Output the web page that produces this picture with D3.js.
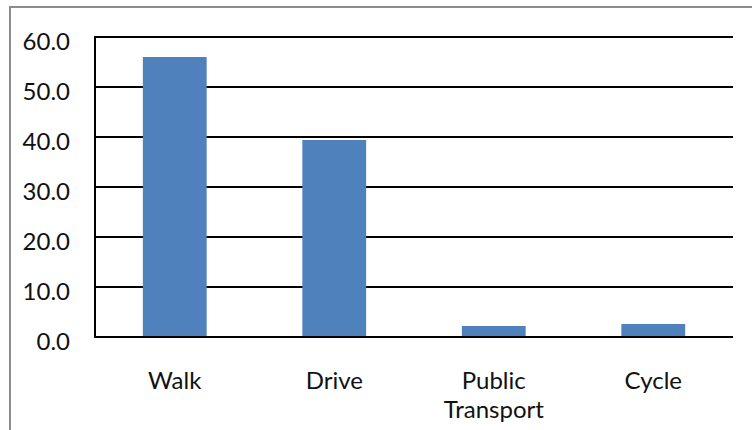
<!DOCTYPE html>
<html>
<head>
<meta charset="utf-8">
<script src="https://cdn.jsdelivr.net/npm/d3@7"></script>
<style>
  body { margin: 0; background: #fff; }
  svg { display: block; font-family: Lato, 'Open Sans', sans-serif; }
</style>
</head>
<body>
<svg id="chart"></svg>
<script>
const WIDTH = 752;
const HEIGHT = 430;

// Data.
const categories = ['Walk', 'Drive', 'Public Transport', 'Cycle'];
const values = [56.0, 39.4, 2.2, 2.6];
const yTicks = [0, 10, 20, 30, 40, 50, 60];

const plot = {left: 95, right: 733, top: 37, bottom: 337};

const svg = d3.select('#chart')
  .attr('width', WIDTH)
  .attr('height', HEIGHT);

// Outer chart frame (only left and top edges show in the window).
svg.append('rect')
  .attr('x', 10)
  .attr('y', 7)
  .attr('width', WIDTH + 20)
  .attr('height', HEIGHT + 20)
  .attr('fill', 'none')
  .attr('stroke', '#8c8c8c')
  .attr('stroke-width', 2);

const x = d3.scaleBand()
  .domain(categories)
  .range([plot.left, plot.right]);

const y = d3.scaleLinear()
  .domain([0, 60])
  .range([plot.bottom, plot.top]);

// Horizontal gridlines.
svg.append('g')
  .selectAll('line')
  .data(yTicks)
  .join('line')
  .attr('x1', plot.left)
  .attr('x2', plot.right)
  .attr('y1', d => y(d))
  .attr('y2', d => y(d))
  .attr('stroke', '#000')
  .attr('stroke-width', 2);

// Bars.
const barWidth = x.bandwidth() * 0.4;
svg.append('g')
  .selectAll('rect')
  .data(values)
  .join('rect')
  .attr('x', (d, i) => x(categories[i]) + (x.bandwidth() - barWidth) / 2)
  .attr('y', d => y(d))
  .attr('width', barWidth)
  .attr('height', d => y(0) - y(d))
  .attr('fill', '#4f81bd');

// Axis lines on top of bars.
svg.append('line')
  .attr('x1', plot.left)
  .attr('x2', plot.right)
  .attr('y1', y(0))
  .attr('y2', y(0))
  .attr('stroke', '#000')
  .attr('stroke-width', 2);

svg.append('line')
  .attr('x1', plot.left)
  .attr('x2', plot.left)
  .attr('y1', y(60) - 1)
  .attr('y2', y(0) + 1)
  .attr('stroke', '#000')
  .attr('stroke-width', 2);

// Y tick labels.
const format = d3.format('.1f');
svg.append('g')
  .selectAll('text')
  .data(yTicks)
  .join('text')
  .attr('x', 70)
  .attr('y', d => y(d) + 13)
  .attr('text-anchor', 'end')
  .attr('font-size', 24)
  .attr('fill', '#111')
  .text(format);

// Category labels, wrapped onto two lines where needed.
const labels = svg.append('g')
  .selectAll('text')
  .data(categories)
  .join('text')
  .attr('x', d => x(d) + x.bandwidth() / 2)
  .attr('y', 389)
  .attr('text-anchor', 'middle')
  .attr('font-size', 24)
  .attr('fill', '#111');

labels.each(function (d) {
  const words = d.split(' ');
  d3.select(this)
    .selectAll('tspan')
    .data(words)
    .join('tspan')
    .attr('x', x(d) + x.bandwidth() / 2)
    .attr('dy', (w, i) => (i === 0 ? 0 : 29))
    .text(w => w);
});
</script>
</body>
</html>
